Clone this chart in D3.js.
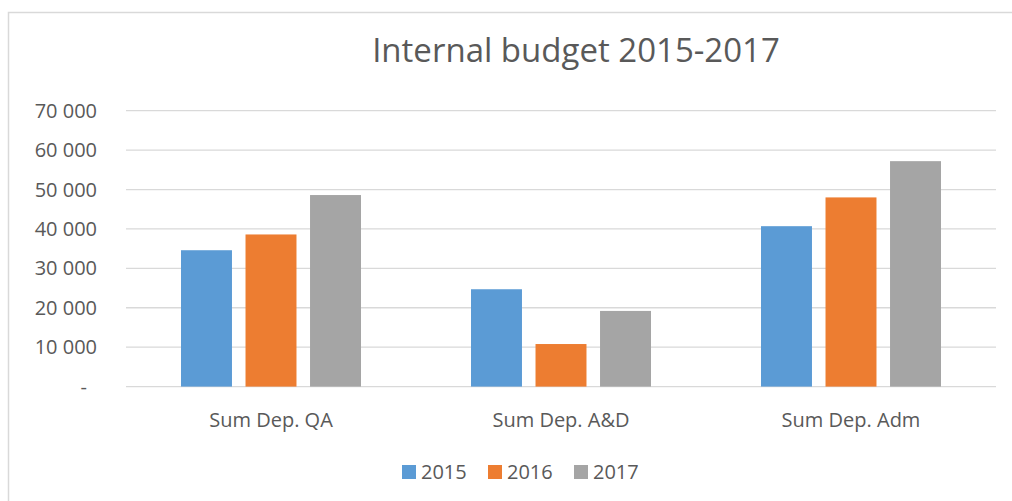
<!DOCTYPE html>
<html>
<head>
<meta charset="utf-8">
<script src="https://cdn.jsdelivr.net/npm/d3@7"></script>
<style>
  body { margin: 0; background: #fff; }
  text { font-family: "Open Sans", sans-serif; fill: #595959; }
</style>
</head>
<body>
<script>
var categories = ['Sum Dep. QA', 'Sum Dep. A&D', 'Sum Dep. Adm'];
var years = ['2015', '2016', '2017'];
var values2015 = [34600, 24700, 40700];
var values2016 = [38600, 10800, 48000];
var values2017 = [48600, 19200, 57200];
var colors = ['#5B9BD5', '#ED7D31', '#A5A5A5'];
var yTicks = [0, 10000, 20000, 30000, 40000, 50000, 60000, 70000];

var series = [values2015, values2016, values2017];

var width = 1012, height = 501;
var margin = {top: 110.7, right: 16, bottom: 114.4, left: 126};
var plotW = width - margin.left - margin.right,
    plotH = height - margin.top - margin.bottom;

var svg = d3.select('body').append('svg')
    .attr('width', width)
    .attr('height', height);

// chart frame
svg.append('rect')
    .attr('x', 8.5).attr('y', 12.5)
    .attr('width', 1020).attr('height', 520)
    .attr('fill', 'none')
    .attr('stroke', '#D9D9D9')
    .attr('stroke-width', 1.5);

svg.append('text')
    .attr('x', 576).attr('y', 62)
    .attr('text-anchor', 'middle')
    .style('font-size', '33px')
    .text('Internal budget 2015-2017');

var g = svg.append('g')
    .attr('transform', 'translate(' + margin.left + ',' + margin.top + ')');

var y = d3.scaleLinear().domain([0, 70000]).range([plotH, 0]);
var x0 = d3.scaleBand().domain(categories).range([0, plotW]);
var x1 = d3.scaleBand().domain(years)
    .range([55, x0.bandwidth() - 55])
    .paddingInner(0.21);

var fmt = function(d) {
  return d === 0 ? '-' : d3.format(',')(d).replace(/,/g, ' ');
};

g.selectAll('.grid')
    .data(yTicks)
  .enter().append('line')
    .attr('class', 'grid')
    .attr('x1', 0).attr('x2', plotW)
    .attr('y1', function(d) { return y(d); })
    .attr('y2', function(d) { return y(d); })
    .attr('stroke', '#D9D9D9')
    .attr('stroke-width', 1.3);

g.selectAll('.ylab')
    .data(yTicks)
  .enter().append('text')
    .attr('class', 'ylab')
    .attr('x', function(d) { return d === 0 ? -39 : -29; })
    .attr('y', function(d) { return y(d) + 7; })
    .attr('text-anchor', 'end')
    .style('font-size', '20px')
    .text(fmt);

var groups = g.selectAll('.cat')
    .data(categories)
  .enter().append('g')
    .attr('class', 'cat')
    .attr('transform', function(d) { return 'translate(' + x0(d) + ',0)'; });

groups.selectAll('rect')
    .data(function(d, i) {
      return years.map(function(yr, j) { return {year: yr, value: series[j][i], color: colors[j]}; });
    })
  .enter().append('rect')
    .attr('x', function(d) { return x1(d.year); })
    .attr('width', x1.bandwidth())
    .attr('y', function(d) { return y(d.value); })
    .attr('height', function(d) { return plotH - y(d.value); })
    .attr('fill', function(d) { return d.color; });

g.selectAll('.xlab')
    .data(categories)
  .enter().append('text')
    .attr('class', 'xlab')
    .attr('x', function(d) { return x0(d) + x0.bandwidth() / 2; })
    .attr('y', plotH + 40)
    .attr('text-anchor', 'middle')
    .style('font-size', '20px')
    .text(function(d) { return d; });

// legend
var legendX = [402, 488, 574];
var legend = svg.selectAll('.legend')
    .data(years)
  .enter().append('g')
    .attr('class', 'legend')
    .attr('transform', function(d, i) { return 'translate(' + legendX[i] + ',465)'; });

legend.append('rect')
    .attr('width', 14).attr('height', 14)
    .attr('fill', function(d, i) { return colors[i]; });

legend.append('text')
    .attr('x', 19).attr('y', 14)
    .style('font-size', '20px')
    .text(function(d) { return d; });
</script>
</body>
</html>
